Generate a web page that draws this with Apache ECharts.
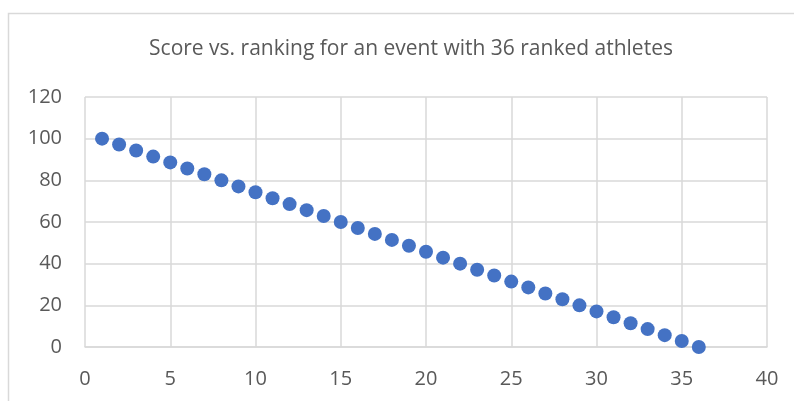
<!DOCTYPE html>
<html>
<head>
<meta charset="utf-8">
<script src="https://cdn.jsdelivr.net/npm/echarts@6/dist/echarts.min.js"></script>
<style>
  html, body { margin: 0; padding: 0; background: #fff; }
  #chart { width: 794px; height: 401px; }
</style>
</head>
<body>
<div id="chart"></div>
<script>
// rank of each athlete and the score given for that rank
const ranks = [1, 2, 3, 4, 5, 6, 7, 8, 9, 10, 11, 12, 13, 14, 15, 16, 17, 18,
  19, 20, 21, 22, 23, 24, 25, 26, 27, 28, 29, 30, 31, 32, 33, 34, 35, 36]
const scores = [100, 97.2, 94.3, 91.4, 88.6, 85.7, 82.9, 80.0, 77.1, 74.3, 71.4, 68.6,
  65.7, 62.9, 60.0, 57.1, 54.3, 51.4, 48.6, 45.7, 42.9, 40.0, 37.1, 34.3,
  31.4, 28.6, 25.7, 22.9, 20.0, 17.1, 14.3, 11.4, 8.6, 5.7, 2.9, 0]

const titleText = 'Score vs. ranking for an event with 36 ranked athletes'
const fontFamily = '"Open Sans", "Noto Sans", sans-serif'
const textColor = '#595959'
const lineColor = '#d9d9d9'

const chart = echarts.init(document.getElementById('chart'))

chart.setOption({
  backgroundColor: '#fff',
  animation: false,
  title: {
    text: titleText,
    left: 406,
    top: 34,
    textAlign: 'center',
    textStyle: {
      fontFamily,
      fontSize: 21,
      fontWeight: 'normal',
      color: textColor
    }
  },
  graphic: [
    {
      type: 'rect',
      shape: { x: 8.5, y: 13.5, width: 1000, height: 1000 },
      style: { fill: 'none', stroke: lineColor, lineWidth: 1.5 },
      silent: true
    }
  ],
  grid: {
    left: 85,
    top: 97,
    right: 27,
    bottom: 54
  },
  xAxis: {
    type: 'value',
    min: 0,
    max: 40,
    interval: 5,
    axisLine: { lineStyle: { color: lineColor, width: 1.5 } },
    axisTick: { show: false },
    splitLine: { lineStyle: { color: lineColor, width: 1.5 } },
    axisLabel: {
      margin: 22,
      fontFamily,
      fontSize: 20,
      color: textColor
    }
  },
  yAxis: {
    type: 'value',
    min: 0,
    max: 120,
    interval: 20,
    axisLine: { show: false },
    axisTick: { show: false },
    splitLine: { lineStyle: { color: lineColor, width: 1.5 } },
    axisLabel: {
      margin: 23,
      fontFamily,
      fontSize: 20,
      color: textColor
    }
  },
  series: [
    {
      type: 'scatter',
      data: ranks.map((r, i) => [r, scores[i]]),
      symbol: 'circle',
      symbolSize: 14,
      itemStyle: { color: '#4472c4', opacity: 1 }
    }
  ]
})

window.addEventListener('resize', () => chart.resize())
</script>
</body>
</html>
